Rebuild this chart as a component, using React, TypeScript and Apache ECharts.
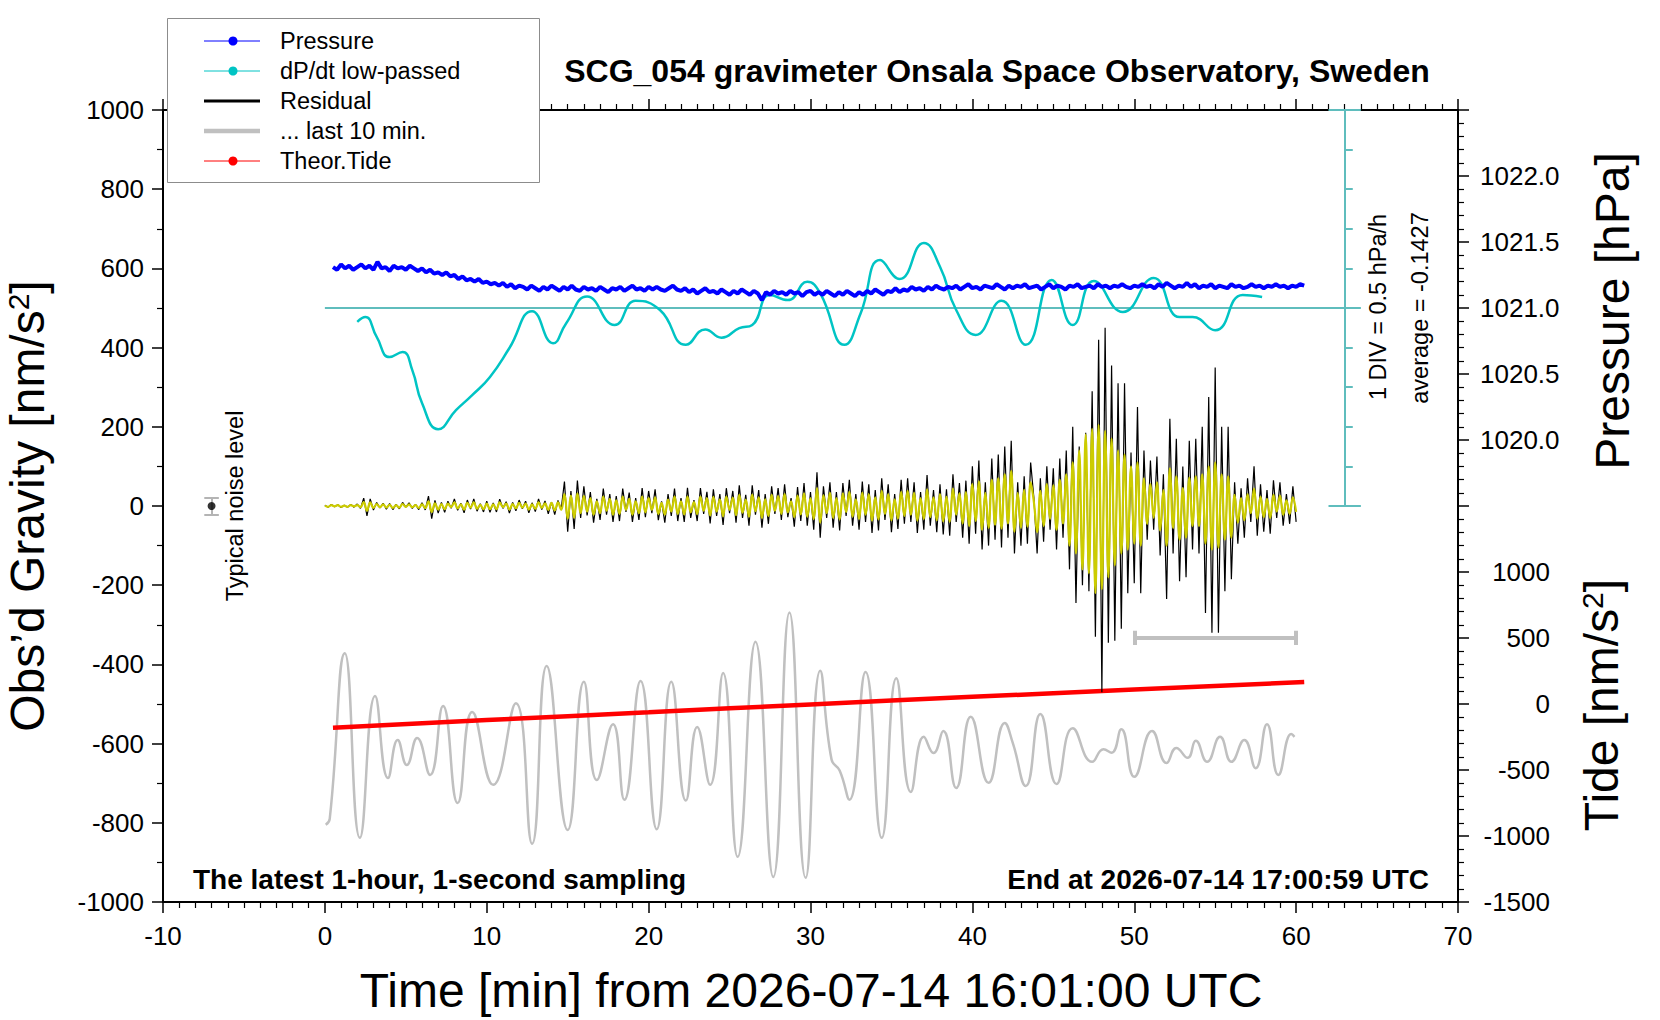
import React, { useEffect, useRef } from 'react';
import * as echarts from 'echarts';

const FONT = '"Liberation Sans", Arial, Helvetica, sans-serif';

// residual and its band-passed version, sampled every 0.2 min from t = 0
const RESID_STEP = 0.2;
const RESIDUAL = [
  2, -3, 4, -2, 3, -4, 2, -3, 4, -3,
  5, -6, 20, -25, 18, -10, 9, -5, 7, -8,
  6, -9, 4, -7, 9, -3, 8, -6, 4, -9,
  8, -10, 25, -32, 14, -18, 9, -16, 12, -6,
  18, -11, 7, -17, 15, -8, 18, -13, 6, -15,
  12, -16, 8, -15, 17, -6, 11, -18, 9, -12,
  15, -7, 12, -17, 8, -14, 18, -9, 13, -20,
  10, -22, 14, -8, 62, -65, 38, -58, 64, -30,
  50, -24, 35, -42, 18, -35, 44, -22, 30, -40,
  25, -38, 44, -15, 34, -40, 20, -35, 45, -28,
  38, -18, 42, -36, 12, -42, 30, -25, 44, -38,
  20, -40, 46, -30, 15, -38, 45, -20, 36, -44,
  42, -25, 30, -48, 45, -18, 38, -42, 52, -30,
  28, -50, 52, -22, 40, -55, 30, -45, 50, -20,
  45, -35, 55, -28, 20, -52, 48, -38, 58, -50,
  35, -60, 85, -80, 50, -30, 60, -55, 35, -62,
  58, -25, 66, -50, 30, -60, 62, -40, 55, -68,
  40, -62, 70, -35, 55, -66, 30, -58, 66, -45,
  70, -40, 60, -68, 35, -60, 78, -50, 40, -66,
  55, -72, 42, -75, 80, -40, 58, -80, 64, -95,
  100, -70, 115, -110, 60, -100, 120, -85, 130, -105,
  150, -80, 165, -120, 60, -100, 75, -95, 110, 20,
  -120, 70, -90, 100, -60, 95, -110, 120, -80, 140,
  -160, 200, -245, 150, -200, 185, -215, 290, -330, 420,
  -470, 450, -345, 355, -340, 310, -310, 310, -220, 135,
  -195, 250, -220, 140, -85, 115, -60, 125, -125, 80,
  -235, 220, -120, 170, -190, 100, -180, 165, -110, 170,
  -120, 200, -270, 275, -320, 350, -320, 200, -215, 200,
  -185, 60, -95, 45, -80, 70, -40, 100, -75, 55,
  -65, 40, -70, 65, -30, 60, -50, 30, -45, 50,
  -40,
];

const FILTERED = [
  1, -2, 2, -1, 2, -2, 1, -2, 2, -1,
  2, -3, 10, -12, 9, -5, 5, -3, 4, -4,
  3, -5, 2, -4, 5, -2, 4, -3, 2, -5,
  4, -5, 12, -15, 7, -9, 5, -8, 6, -3,
  9, -6, 4, -9, 8, -4, 9, -7, 3, -8,
  6, -8, 4, -8, 9, -3, 6, -9, 5, -6,
  8, -4, 6, -9, 4, -7, 9, -5, 7, -10,
  8, -11, 9, -10, 30, -32, 26, -30, 32, -18,
  25, -14, 20, -22, 12, -18, 24, -12, 18, -22,
  14, -20, 24, -10, 18, -22, 12, -18, 24, -16,
  20, -10, 22, -20, 8, -22, 16, -14, 24, -20,
  12, -21, 24, -16, 10, -20, 24, -12, 20, -24,
  23, -14, 17, -26, 24, -10, 21, -23, 28, -17,
  16, -27, 29, -13, 22, -30, 17, -25, 28, -12,
  25, -20, 30, -16, 12, -28, 26, -21, 32, -27,
  20, -33, 45, -42, 27, -18, 33, -30, 20, -34,
  32, -15, 36, -27, 17, -33, 34, -22, 30, -37,
  22, -34, 38, -20, 30, -36, 17, -32, 36, -25,
  38, -22, 33, -37, 20, -33, 42, -28, 22, -36,
  30, -39, 24, -40, 44, -22, 32, -44, 35, -50,
  55, -38, 62, -60, 33, -55, 66, -47, 70, -57,
  80, -44, 88, -65, 33, -55, 41, -52, 60, 10,
  -66, 38, -50, 55, -33, 52, -60, 66, -44, 80,
  -100, 110, -120, 140, -160, 180, -170, 195, -220, 205,
  -210, 190, -180, 170, -150, 140, -120, 130, -110, 100,
  -95, 110, -100, 70, -45, 55, -30, 60, -62, 40,
  -100, 95, -55, 75, -85, 45, -80, 72, -50, 75,
  -50, 80, -95, 100, -110, 110, -105, 80, -85, 75,
  -80, 28, -42, 20, -36, 30, -18, 44, -32, 24,
  -28, 18, -30, 28, -14, 26, -22, 14, -20, 22,
  -15,
];

// air pressure [hPa], every 0.25 min from t = 0.5
const PRESSURE_T0 = 0.5;
const PRESSURE_STEP = 0.25;
const PRESSURE = [
  1021.31, 1021.29, 1021.33, 1021.3, 1021.32, 1021.29, 1021.31, 1021.33,
  1021.3, 1021.32, 1021.29, 1021.35, 1021.3, 1021.31, 1021.28, 1021.32,
  1021.3, 1021.31, 1021.29, 1021.32, 1021.3, 1021.28, 1021.3, 1021.27,
  1021.29, 1021.26, 1021.27, 1021.25, 1021.27, 1021.24, 1021.25, 1021.22,
  1021.24, 1021.21, 1021.22, 1021.2, 1021.22, 1021.19, 1021.2, 1021.18,
  1021.19, 1021.17, 1021.19, 1021.16, 1021.18, 1021.15, 1021.17, 1021.16,
  1021.14, 1021.17, 1021.15, 1021.13, 1021.16, 1021.14, 1021.17, 1021.15,
  1021.13, 1021.16, 1021.14, 1021.17, 1021.14, 1021.13, 1021.16, 1021.14,
  1021.15, 1021.13, 1021.16, 1021.14, 1021.12, 1021.15, 1021.14, 1021.16,
  1021.13, 1021.15, 1021.17, 1021.14, 1021.15, 1021.13, 1021.16, 1021.14,
  1021.16, 1021.14, 1021.13, 1021.15, 1021.17, 1021.14, 1021.13, 1021.15,
  1021.12, 1021.14, 1021.11, 1021.13, 1021.15, 1021.12, 1021.13, 1021.11,
  1021.14, 1021.12, 1021.1, 1021.13, 1021.11, 1021.14, 1021.12, 1021.1,
  1021.13, 1021.11, 1021.06, 1021.12, 1021.1, 1021.13, 1021.11, 1021.12,
  1021.1, 1021.13, 1021.11, 1021.12, 1021.09, 1021.12, 1021.13, 1021.1,
  1021.12, 1021.1, 1021.13, 1021.11, 1021.09, 1021.12, 1021.1, 1021.13,
  1021.11, 1021.09, 1021.12, 1021.1, 1021.13, 1021.11, 1021.14, 1021.12,
  1021.1, 1021.13, 1021.12, 1021.15, 1021.12, 1021.14, 1021.13, 1021.16,
  1021.14, 1021.15, 1021.13, 1021.16, 1021.14, 1021.17, 1021.15, 1021.14,
  1021.16, 1021.15, 1021.17, 1021.14, 1021.16, 1021.18, 1021.15, 1021.16,
  1021.14, 1021.17, 1021.16, 1021.15, 1021.18, 1021.16, 1021.14, 1021.17,
  1021.15, 1021.17, 1021.16, 1021.18, 1021.15, 1021.16, 1021.17, 1021.14,
  1021.16, 1021.18, 1021.15, 1021.17, 1021.16, 1021.14, 1021.17, 1021.16,
  1021.18, 1021.15, 1021.16, 1021.17, 1021.15, 1021.18, 1021.16, 1021.17,
  1021.15, 1021.17, 1021.16, 1021.18, 1021.16, 1021.15, 1021.17, 1021.16,
  1021.18, 1021.16, 1021.17, 1021.15, 1021.18, 1021.16, 1021.19, 1021.17,
  1021.15, 1021.17, 1021.16, 1021.19, 1021.16, 1021.18, 1021.15, 1021.17,
  1021.16, 1021.18, 1021.15, 1021.17, 1021.16, 1021.15, 1021.18, 1021.16,
  1021.17, 1021.15, 1021.16, 1021.18, 1021.16, 1021.17, 1021.15, 1021.17,
  1021.16, 1021.18, 1021.16, 1021.17, 1021.15, 1021.17, 1021.16, 1021.18,
  1021.17,
];

// dP/dt low-passed, plotted in gravity units (500 = average, 1 DIV = 100)
const DPDT = [
  [2.0, 465], [2.5, 477], [3.2, 427], [4.0, 376], [4.8, 389], [5.4, 343], [6.0, 260],
  [7.0, 194], [8.1, 242], [9.1, 280], [10.2, 326], [11.4, 399], [12.8, 492], [14.1, 411],
  [14.9, 461], [16.2, 529], [17.9, 457], [19.2, 518], [20.7, 495], [22.3, 407], [23.5, 446],
  [24.5, 425], [25.6, 449], [26.4, 457], [27.5, 533], [28.6, 520], [29.8, 566], [30.6, 537],
  [32.1, 407], [33.1, 487], [34.3, 621], [35.5, 573], [37.0, 664], [38.0, 604], [39.0, 495],
  [40.2, 432], [41.8, 518], [43.3, 407], [44.9, 571], [46.2, 457], [47.5, 568], [49.3, 490],
  [51.2, 576], [52.8, 477], [53.6, 477], [55.0, 444], [56.7, 533], [57.9, 528],
];

// last 10 min of residual, stretched over the hour and shifted down
const LAST10 = [
  [0.05, -805], [0.3, -790], [1.23, -372], [2.16, -838], [3.1, -480], [3.9, -687], [4.5, -591],
  [5.06, -654], [5.7, -586], [6.5, -679], [7.3, -505], [8.2, -750], [9.1, -520], [10.4, -704],
  [11.8, -498], [12.8, -853], [13.7, -404], [15.0, -818], [16.0, -444], [16.8, -692],
  [17.8, -551], [18.5, -742], [19.5, -442], [20.5, -816], [21.4, -444], [22.3, -744],
  [23.0, -558], [23.8, -704], [24.6, -422], [25.5, -886], [26.6, -343], [27.7, -937],
  [28.7, -269], [29.7, -939], [30.6, -416], [31.3, -640], [31.8, -668], [32.4, -742],
  [33.4, -419], [34.4, -838], [35.3, -435], [36.2, -722], [37.0, -583], [37.6, -624],
  [38.2, -568], [39.0, -712], [39.9, -532], [41.0, -699], [42.0, -548], [42.5, -599],
  [43.3, -707], [44.2, -525], [45.2, -702], [46.2, -561], [47.4, -646], [48.1, -614],
  [48.6, -623], [49.2, -564], [50.0, -684], [51.1, -568], [52.0, -649], [52.6, -611],
  [53.3, -636], [53.8, -593], [54.5, -646], [55.3, -583], [56.0, -646], [56.8, -591],
  [57.5, -662], [58.2, -551], [58.9, -679], [59.7, -576], [59.9, -583],
];

// theoretical tide [nm/s^2]
const TIDE = [
  [0.5, -180], [10, -122], [20, -63], [30, -3], [40, 54], [50, 109], [60.5, 166],
];

// annotation marks in data units
const DPDT_BASE = 500;
const DPDT_DIV = 100;
const SCALE_X = 63;
const NOISE_T = -7;
const NOISE_HALF = 22;
const WINDOW = [50, 60];
const WINDOW_Y = -333;

const App: React.FC = () => {
  const chartRef = useRef<HTMLDivElement>(null);

  useEffect(() => {
    if (!chartRef.current) return;
    const chart = echarts.init(chartRef.current, undefined, { renderer: 'svg' });

    const axisLineStyle = { color: '#000', width: 2 };
    const tickStyle = { color: '#000', width: 1.5 };
    const minorStyle = { color: '#000', width: 1.2 };

    const scaleSegs: any[] = [
      { coords: [[SCALE_X, 0], [SCALE_X, 10 * DPDT_DIV]] },
      { coords: [[0, DPDT_BASE], [SCALE_X + 1, DPDT_BASE]] },
      { coords: [[SCALE_X - 1, 0], [SCALE_X + 1, 0]] },
      { coords: [[SCALE_X - 1, 10 * DPDT_DIV], [SCALE_X + 1, 10 * DPDT_DIV]] },
    ];
    for (let k = 1; k < 10; k++) {
      if (k === 5) continue;
      scaleSegs.push({ coords: [[SCALE_X, k * DPDT_DIV], [SCALE_X + 0.5, k * DPDT_DIV]] });
    }

    const capT = 0.45;
    const graySegs = [
      { coords: [[WINDOW[0], WINDOW_Y], [WINDOW[1], WINDOW_Y]] },
      { coords: [[WINDOW[0], WINDOW_Y - 18], [WINDOW[0], WINDOW_Y + 18]] },
      { coords: [[WINDOW[1], WINDOW_Y - 18], [WINDOW[1], WINDOW_Y + 18]] },
    ];
    const noiseSegs = [
      { coords: [[NOISE_T, -NOISE_HALF], [NOISE_T, NOISE_HALF]] },
      { coords: [[NOISE_T - capT, -NOISE_HALF], [NOISE_T + capT, -NOISE_HALF]] },
      { coords: [[NOISE_T - capT, NOISE_HALF], [NOISE_T + capT, NOISE_HALF]] },
    ];

    const txt = (x: number, y: number, text: string, size: number, opts: any = {}) => ({
      type: 'text',
      x,
      y,
      rotation: opts.rotation || 0,
      z: 100,
      style: {
        text,
        fill: '#000',
        fontSize: size,
        fontFamily: FONT,
        fontWeight: opts.bold ? 'bold' : 'normal',
        textAlign: opts.align || 'center',
        align: opts.align || 'center',
        textVerticalAlign: 'middle',
        verticalAlign: 'middle',
        rich: opts.rich,
      },
    });

    const supRich = {
      s: { fontSize: 30, fontFamily: FONT, fill: '#000', verticalAlign: 'top' },
    };

    const legendItems = [
      { name: 'Pressure', color: '#0000ff', width: 1, dot: true },
      { name: 'dP/dt low-passed', color: '#00c4c4', width: 1, dot: true },
      { name: 'Residual', color: '#000000', width: 3, dot: false },
      { name: '... last 10 min.', color: '#c0c0c0', width: 4.5, dot: false },
      { name: 'Theor.Tide', color: '#ff0000', width: 1, dot: true },
    ];
    const legendEls: any[] = [
      {
        type: 'rect',
        z: 99,
        shape: { x: 167.5, y: 18.5, width: 372, height: 164 },
        style: { fill: '#fff', stroke: '#8c8c8c', lineWidth: 1 },
      },
    ];
    legendItems.forEach((it, i) => {
      const y = 41 + i * 30;
      legendEls.push({
        type: 'line',
        z: 100,
        shape: { x1: 204, y1: y, x2: 260, y2: y },
        style: { stroke: it.color, lineWidth: it.width },
      });
      if (it.dot) {
        legendEls.push({
          type: 'circle',
          z: 100,
          shape: { cx: 233, cy: y, r: 4.5 },
          style: { fill: it.color },
        });
      }
      legendEls.push(txt(280, y, it.name, 23.5, { align: 'left' }));
    });

    const option: any = {
      animation: false,
      backgroundColor: '#fff',
      textStyle: { fontFamily: FONT },
      grid: { left: 163, top: 110, right: 202, bottom: 118 },
      xAxis: [
        {
          type: 'value',
          position: 'bottom',
          min: -10,
          max: 70,
          interval: 10,
          axisLine: { onZero: false, lineStyle: axisLineStyle },
          axisTick: { length: 11, lineStyle: tickStyle },
          minorTick: { show: true, splitNumber: 10, length: 6, lineStyle: minorStyle },
          axisLabel: { fontSize: 26, color: '#000', margin: 21, fontFamily: FONT },
          splitLine: { show: false },
        },
        {
          type: 'value',
          position: 'top',
          min: -10,
          max: 70,
          interval: 10,
          axisLine: { onZero: false, lineStyle: axisLineStyle },
          axisTick: { length: 11, lineStyle: tickStyle },
          minorTick: { show: true, splitNumber: 10, length: 6, lineStyle: minorStyle },
          axisLabel: { show: false },
          splitLine: { show: false },
        },
      ],
      yAxis: [
        {
          type: 'value',
          position: 'left',
          min: -1000,
          max: 1000,
          interval: 200,
          axisLine: { show: true, onZero: false, lineStyle: axisLineStyle },
          axisTick: { show: true, length: 11, lineStyle: tickStyle },
          minorTick: { show: true, splitNumber: 2, length: 6, lineStyle: minorStyle },
          axisLabel: {
            fontSize: 26,
            color: '#000',
            margin: 19,
            fontFamily: FONT,
            formatter: (v: number) => String(v),
          },
          splitLine: { show: false },
        },
        {
          type: 'value',
          position: 'right',
          min: 1016.5,
          max: 1022.5,
          interval: 0.5,
          axisLine: { show: true, onZero: false, lineStyle: axisLineStyle },
          axisTick: { show: true, length: 11, lineStyle: tickStyle },
          minorTick: { show: true, splitNumber: 5, length: 6, lineStyle: minorStyle },
          axisLabel: {
            fontSize: 26,
            color: '#000',
            margin: 22,
            fontFamily: FONT,
            formatter: (v: number) => (v > 1019.99 && v < 1022.01 ? v.toFixed(1) : ''),
          },
          splitLine: { show: false },
        },
        {
          type: 'value',
          position: 'right',
          min: -1500,
          max: 4500,
          interval: 500,
          axisLine: { show: false, onZero: false },
          axisTick: { show: false },
          axisLabel: {
            fontSize: 26,
            color: '#000',
            margin: 92,
            align: 'right',
            fontFamily: FONT,
            formatter: (v: number) => (v <= 1000 ? String(v) : ''),
          },
          splitLine: { show: false },
        },
      ],
      series: [
        {
          name: '... last 10 min.',
          type: 'line',
          data: LAST10,
          smooth: 0.5,
          showSymbol: false,
          lineStyle: { color: '#c0c0c0', width: 2.5 },
          z: 2,
        },
        {
          name: 'window',
          type: 'lines',
          coordinateSystem: 'cartesian2d',
          data: graySegs,
          lineStyle: { color: '#c0c0c0', width: 4, opacity: 1, curveness: 0 },
          z: 2,
        },
        {
          name: 'Theor.Tide',
          type: 'line',
          yAxisIndex: 2,
          data: TIDE,
          smooth: true,
          showSymbol: false,
          lineStyle: { color: '#ff0000', width: 4.5 },
          z: 3,
        },
        {
          name: 'scale',
          type: 'lines',
          coordinateSystem: 'cartesian2d',
          data: scaleSegs,
          lineStyle: { color: '#5fbdbd', width: 2, opacity: 1, curveness: 0 },
          z: 3,
        },
        {
          name: 'dP/dt low-passed',
          type: 'line',
          data: DPDT,
          smooth: 0.5,
          showSymbol: false,
          lineStyle: { color: '#00c4c4', width: 2.5 },
          z: 4,
        },
        {
          name: 'Pressure',
          type: 'line',
          yAxisIndex: 1,
          data: PRESSURE.map((p, i) => [PRESSURE_T0 + i * PRESSURE_STEP, p]),
          showSymbol: false,
          lineStyle: { color: '#0000ff', width: 4 },
          z: 5,
        },
        {
          name: 'Residual',
          type: 'line',
          data: RESIDUAL.map((v, i) => [i * RESID_STEP, v]),
          showSymbol: false,
          lineStyle: { color: '#000', width: 1.2 },
          z: 6,
        },
        {
          name: 'Filtered',
          type: 'line',
          data: FILTERED.map((v, i) => [i * RESID_STEP, v]),
          smooth: 0.4,
          showSymbol: false,
          lineStyle: { color: '#cccc00', width: 2.2 },
          z: 7,
        },
        {
          name: 'noise',
          type: 'lines',
          coordinateSystem: 'cartesian2d',
          data: noiseSegs,
          lineStyle: { color: '#b4b4b4', width: 2, opacity: 1, curveness: 0 },
          z: 8,
        },
        {
          name: 'noise dot',
          type: 'scatter',
          data: [[NOISE_T, 0]],
          symbolSize: 8,
          itemStyle: { color: '#000' },
          z: 9,
        },
      ],
      graphic: [
        txt(997, 71, 'SCG_054 gravimeter Onsala Space Observatory, Sweden', 32, { bold: true }),
        txt(193, 879, 'The latest 1-hour, 1-second sampling', 28, { bold: true, align: 'left' }),
        txt(1429, 879, 'End at 2026-07-14 17:00:59 UTC', 28, { bold: true, align: 'right' }),
        txt(811, 990, 'Time [min] from 2026-07-14 16:01:00 UTC', 48),
        txt(27, 506, 'Obs’d Gravity [nm/s{s|2}]', 48, { rotation: Math.PI / 2, rich: supRich }),
        txt(1612, 311, 'Pressure [hPa]', 48, { rotation: Math.PI / 2 }),
        txt(1601, 705, 'Tide [nm/s{s|2}]', 48, { rotation: Math.PI / 2, rich: supRich }),
        txt(1378, 307, '1 DIV = 0.5 hPa/h', 23.5, { rotation: Math.PI / 2 }),
        txt(1420, 308, 'average = -0.1427', 23.5, { rotation: Math.PI / 2 }),
        txt(235, 506, 'Typical noise level', 23.5, { rotation: Math.PI / 2 }),
        ...legendEls,
      ],
    };

    chart.setOption(option);
    return () => {
      chart.dispose();
    };
  }, []);

  return (
    <div
      ref={chartRef}
      style={{ position: 'absolute', left: 0, top: 0, width: '1660px', height: '1020px' }}
    />
  );
};

export default App;
